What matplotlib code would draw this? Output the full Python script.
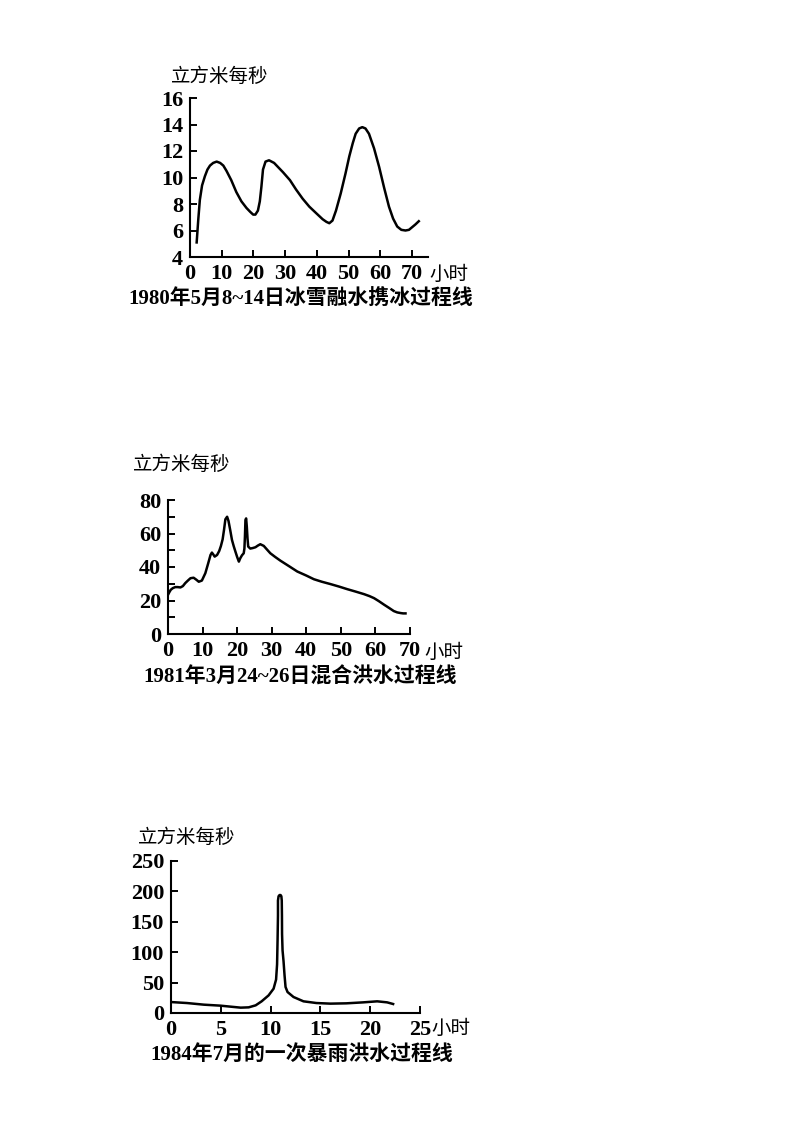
import matplotlib
matplotlib.use("Agg")
import matplotlib.pyplot as plt

# ---------------------------------------------------------------
# 数据
# ---------------------------------------------------------------
p1_hours = [2.1, 2.6, 3.1, 3.8, 4.7, 5.5, 6.3, 7.3, 8.4, 9.5, 10.5, 11.5, 13.0,
            14.6, 16.2, 17.8, 19.0, 19.9, 20.6, 21.4, 22.0, 22.5, 23.0, 23.8,
            24.9, 26.5, 29.3, 31.5, 33.4, 35.5, 37.6, 39.8, 41.8, 43.0, 43.9,
            44.9, 46.0, 47.5, 49.0, 50.2, 51.3, 52.2, 53.3, 54.3, 55.3, 56.4,
            58.0, 59.6, 61.2, 62.7, 64.0, 65.3, 66.6, 67.9, 69.0, 70.0, 71.0, 72.1]
p1_flow = [5.1, 6.8, 8.3, 9.4, 10.1, 10.6, 10.9, 11.1, 11.2, 11.1, 10.9, 10.5, 9.8,
           8.9, 8.2, 7.7, 7.4, 7.2, 7.2, 7.5, 8.2, 9.3, 10.6, 11.2,
           11.3, 11.1, 10.4, 9.8, 9.1, 8.4, 7.8, 7.3, 6.85, 6.65, 6.55,
           6.75, 7.5, 8.8, 10.3, 11.6, 12.6, 13.3, 13.7, 13.8, 13.7, 13.3,
           12.2, 10.8, 9.2, 7.8, 6.9, 6.3, 6.05, 6.0, 6.05, 6.25, 6.45, 6.7]

p2_hours = [0.0, 0.4, 0.8, 1.4, 2.1, 2.8, 3.6, 4.3, 5.0, 5.8, 6.5, 7.4, 8.2, 8.9,
            9.8, 10.8, 11.6, 12.3, 12.7, 13.1, 13.5, 14.2, 14.8, 15.3, 15.8,
            16.2, 16.6, 17.1, 17.5, 18.0, 18.5, 19.0, 19.5, 20.0, 20.5, 20.9,
            21.4, 21.9, 22.1, 22.25, 22.4, 22.6, 22.8, 23.0, 23.2, 23.8, 24.5,
            25.3, 26.0, 26.7, 27.7, 28.6, 29.6, 31.0, 32.5, 35.0, 37.4, 40.0,
            42.2, 44.5, 47.0, 49.5, 51.8, 54.3, 56.7, 58.3, 59.6, 61.0, 62.5,
            64.0, 65.3, 66.3, 67.3, 68.0, 68.7]
p2_flow = [23.4, 25.0, 26.4, 27.4, 28.0, 28.0, 27.8, 28.6, 30.4, 32.0, 33.3, 33.6, 32.4, 31.2,
           31.9, 36.3, 42.0, 47.2, 48.6, 47.5, 46.2, 47.2, 49.5, 52.5, 56.5,
           62.1, 68.5, 70.0, 67.5, 62.0, 56.2, 52.5, 49.2, 46.0, 43.2, 45.2,
           47.0, 48.2, 51.0, 58.0, 68.0, 69.0, 64.0, 57.0, 52.2, 51.0, 51.3,
           51.8, 52.8, 53.6, 52.6, 50.5, 48.2, 46.0, 43.8, 40.5, 37.3, 34.9,
           32.7, 31.2, 29.8, 28.3, 26.8, 25.3, 23.8, 22.6, 21.4, 19.6, 17.5,
           15.5, 13.7, 12.9, 12.5, 12.3, 12.3]

p3_hours = [0.0, 1.6, 3.3, 4.95, 6.0, 7.0, 7.8, 8.5, 9.1, 9.8, 10.3, 10.55, 10.65,
            10.7, 10.74, 10.74, 10.8, 10.9, 11.0, 11.08, 11.12, 11.14, 11.15,
            11.2, 11.3, 11.4, 11.5, 11.7, 12.3, 13.3, 14.6, 16.0, 17.6, 19.3,
            20.7, 21.7, 22.3]
p3_flow = [18.0, 16.4, 13.7, 12.1, 10.4, 8.8, 9.3, 12.6, 19.2, 29.0, 40.0, 55.0, 80.0,
           120.0, 160.0, 185.0, 192.0, 194.0, 194.0, 192.0, 185.0, 160.0, 130.0,
           103.0, 85.0, 62.0, 42.8, 34.5, 26.3, 19.2, 16.4, 15.4, 15.9, 17.5,
           19.2, 17.5, 14.8]

p1_xticks = [0, 10, 20, 30, 40, 50, 60, 70]
p1_yticks = [4, 6, 8, 10, 12, 14, 16]
p2_xticks = [0, 10, 20, 30, 40, 50, 60, 70]
p2_yticks = [0, 20, 40, 60, 80]
p2_yminor = [10, 30, 50, 70]
p3_xticks = [0, 5, 10, 15, 20, 25]
p3_yticks = [0, 50, 100, 150, 200, 250]

unit_y = "立方米每秒"
unit_x = "小时"
titles = ["1980年5月8~14日冰雪融水携冰过程线",
          "1981年3月24~26日混合洪水过程线",
          "1984年7月的一次暴雨洪水过程线"]

# ---------------------------------------------------------------
# 画布与样式
# ---------------------------------------------------------------
W, H = 800, 1132
NUM_FONT = ["Liberation Serif", "Noto Sans CJK SC"]
CJK_FONT = ["Noto Sans CJK SC", "DejaVu Sans"]

fig = plt.figure(figsize=(W / 100, H / 100), dpi=100)
fig.patch.set_facecolor("white")


def px_axes(left, right, top, bottom):
    """以像素坐标建立坐标轴"""
    return fig.add_axes([left / W, 1 - bottom / H, (right - left) / W, (bottom - top) / H])


def fig_text(x, y, s, **kw):
    fig.text(x / W, 1 - y / H, s, **kw)


def style_axes(ax, xlim, ylim, xticks, yticks, yminor=None):
    ax.set_xlim(*xlim)
    ax.set_ylim(*ylim)
    for side in ("top", "right"):
        ax.spines[side].set_visible(False)
    for side in ("left", "bottom"):
        ax.spines[side].set_linewidth(1.5)
    ax.set_xticks(xticks)
    ax.set_yticks(yticks)
    if yminor:
        ax.set_yticks(yminor, minor=True)
    ax.tick_params(direction="in", length=5, width=1.4, pad=5, labelsize=16)
    ax.tick_params(which="minor", direction="in", length=5, width=1.4)
    for lab in ax.get_xticklabels() + ax.get_yticklabels():
        lab.set_fontfamily(NUM_FONT)
        lab.set_fontweight("bold")


panels = [
    dict(box=(190, 428, 98, 257), x=p1_hours, y=p1_flow, xlim=(0, 75), ylim=(4, 16),
         xt=p1_xticks, yt=p1_yticks, ym=None,
         ylab=(220, 76), xlab=(449, 274), title=(301, 299)),
    dict(box=(168, 410, 500, 634), x=p2_hours, y=p2_flow, xlim=(0, 70), ylim=(0, 80),
         xt=p2_xticks, yt=p2_yticks, ym=p2_yminor,
         ylab=(182, 464), xlab=(444, 652), title=(300, 678)),
    dict(box=(171, 420, 861, 1013), x=p3_hours, y=p3_flow, xlim=(0, 25), ylim=(0, 250),
         xt=p3_xticks, yt=p3_yticks, ym=None,
         ylab=(187, 837), xlab=(451, 1028), title=(302, 1055)),
]

for p, title in zip(panels, titles):
    ax = px_axes(*p["box"])
    ax.plot(p["x"], p["y"], color="black", lw=1.8, solid_joinstyle="round")
    style_axes(ax, p["xlim"], p["ylim"], p["xt"], p["yt"], p["ym"])
    fig_text(*p["ylab"], unit_y, ha="center", va="center", fontsize=14, family=CJK_FONT)
    fig_text(*p["xlab"], unit_x, ha="center", va="center", fontsize=14, family=CJK_FONT)
    fig_text(*p["title"], title, ha="center", va="center", fontsize=15,
             family=NUM_FONT, fontweight="bold")

fig.savefig("out.png", dpi=100, facecolor="white")
